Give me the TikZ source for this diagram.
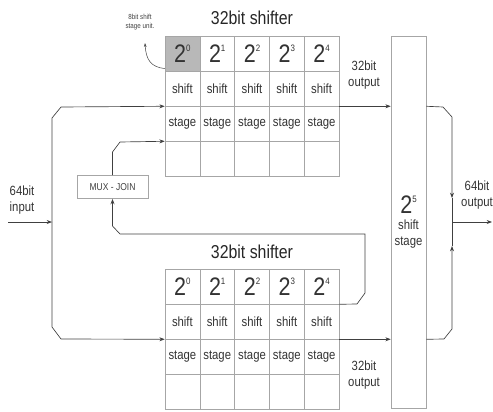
\documentclass[tikz,border=0pt]{standalone}
\usepackage{fontspec}
\setmainfont{Liberation Sans}[FakeStretch=0.85]
\usetikzlibrary{arrows.meta,positioning}

% power of two with a small raised exponent
\newcommand{\pw}[1]{{\fontsize{19}{19}\selectfont 2}\raisebox{8.5pt}{\fontsize{7}{7}\selectfont #1}}

\begin{document}
\begin{tikzpicture}[x=0.75pt, y=-0.75pt,
  font=\fontsize{10}{12}\selectfont, >={Stealth[length=4pt, width=3pt]},
  cell/.style={draw=black!35, line width=0.4pt, minimum width=26.1pt, minimum height=26.25pt, inner sep=0pt, text=black!80},
  hot/.style={cell, fill=black!28},
  tall/.style={draw=black!35, line width=0.4pt, minimum width=26.25pt, minimum height=279pt, inner sep=0pt, align=center, text=black!80},
  mux/.style={draw=black!35, line width=0.4pt, minimum width=53pt, minimum height=17.5pt, font=\fontsize{7.5}{9}\selectfont, text=black!75},
  ttl/.style={font=\fontsize{14}{16}\selectfont, text=black!85},
  lbl/.style={font=\fontsize{10}{12}\selectfont, align=center, text=black!80},
  arr/.style={->, line width=0.5pt, draw=black!75},
  wire/.style={line width=0.5pt, draw=black!75},
]
\useasboundingbox (0,0) rectangle (493,411);
% upper shifter
\node[ttl] (ttop) at (252,18) {32bit shifter};
\foreach \i/\s in {0/hot,1/cell,2/cell,3/cell,4/cell} {
  \node[\s]   (tp\i) at ({182.4+34.8*\i},53.5)  {\pw{\i}};
  \node[cell] (ts\i) at ({182.4+34.8*\i},88.5)  {shift};
  \node[cell] (tg\i) at ({182.4+34.8*\i},123.5) {stage};
  \node[cell] (te\i) at ({182.4+34.8*\i},158.5) {};
}
% lower shifter
\node[ttl] (tbot) at (252,252) {32bit shifter};
\foreach \i in {0,...,4} {
  \node[cell] (bp\i) at ({182.4+34.8*\i},286.5) {\pw{\i}};
  \node[cell] (bs\i) at ({182.4+34.8*\i},321.5) {shift};
  \node[cell] (bg\i) at ({182.4+34.8*\i},356.5) {stage};
  \node[cell] (be\i) at ({182.4+34.8*\i},391.5) {};
}
% last stage and join
\node[tall] (st5) at (408.5,222) {\pw{5}\\shift\\stage};
\node[mux] (mux) at (112.5,187) {MUX - JOIN};
% labels
\node[font=\fontsize{5.5}{6.5}\selectfont, align=center, text=black!75] (unit) at (140,22) {8bit shift\\stage unit.};
\node[lbl] (oa) at (364,75) {32bit\\output};
\node[lbl] (ob) at (364,375) {32bit\\output};
\node[lbl] (inl) at (22,200) {64bit\\input};
\node[lbl] (outl) at (477,195) {64bit\\output};
\coordinate (in) at (8,222);
\coordinate (ij) at (52,222);
\coordinate (dn) at (452,198);
\coordinate (upp) at (452,246);
\coordinate (jn) at (452,222);
\coordinate (out) at (492,222);
\coordinate (ldr) at (145,43);
% arrows
\draw[<-, line width=0.4pt, draw=black!70, >={Stealth[length=3pt, width=2pt]}] (ldr) .. controls (146,60) and (151,67) .. ([yshift=2pt]tp0.south west);
\draw[arr] (in) -- (ij);
\draw[arr] (ij) -- (52,118) -- (61,107) -- (ts0.south west);
\draw[arr] (ij) -- (52,327) -- (61,339) -- (bs0.south west);
\draw[arr] (mux.north) -- (112.5,152) -- (120,142) -- (tg0.south west);
\draw[arr] (bp4.south east) -- (357,304) -- (365,293) -- (365,234) -- (120,234) -- (112.5,226) -- (mux.south);
\draw[arr] (ts4.south east) -- (st5.west |- ts4.south east);
\draw[arr] (bs4.south east) -- (st5.west |- bs4.south east);
\draw[arr] (st5.east |- ts4.south east) -- (443,107) -- (452,117) -- (dn);
\draw[wire] (dn) -- (jn);
\draw[arr] (st5.east |- bs4.south east) -- (444,339) -- (452,329) -- (upp);
\draw[wire] (upp) -- (jn);
\draw[arr] (jn) -- (out);
\end{tikzpicture}
\end{document}
